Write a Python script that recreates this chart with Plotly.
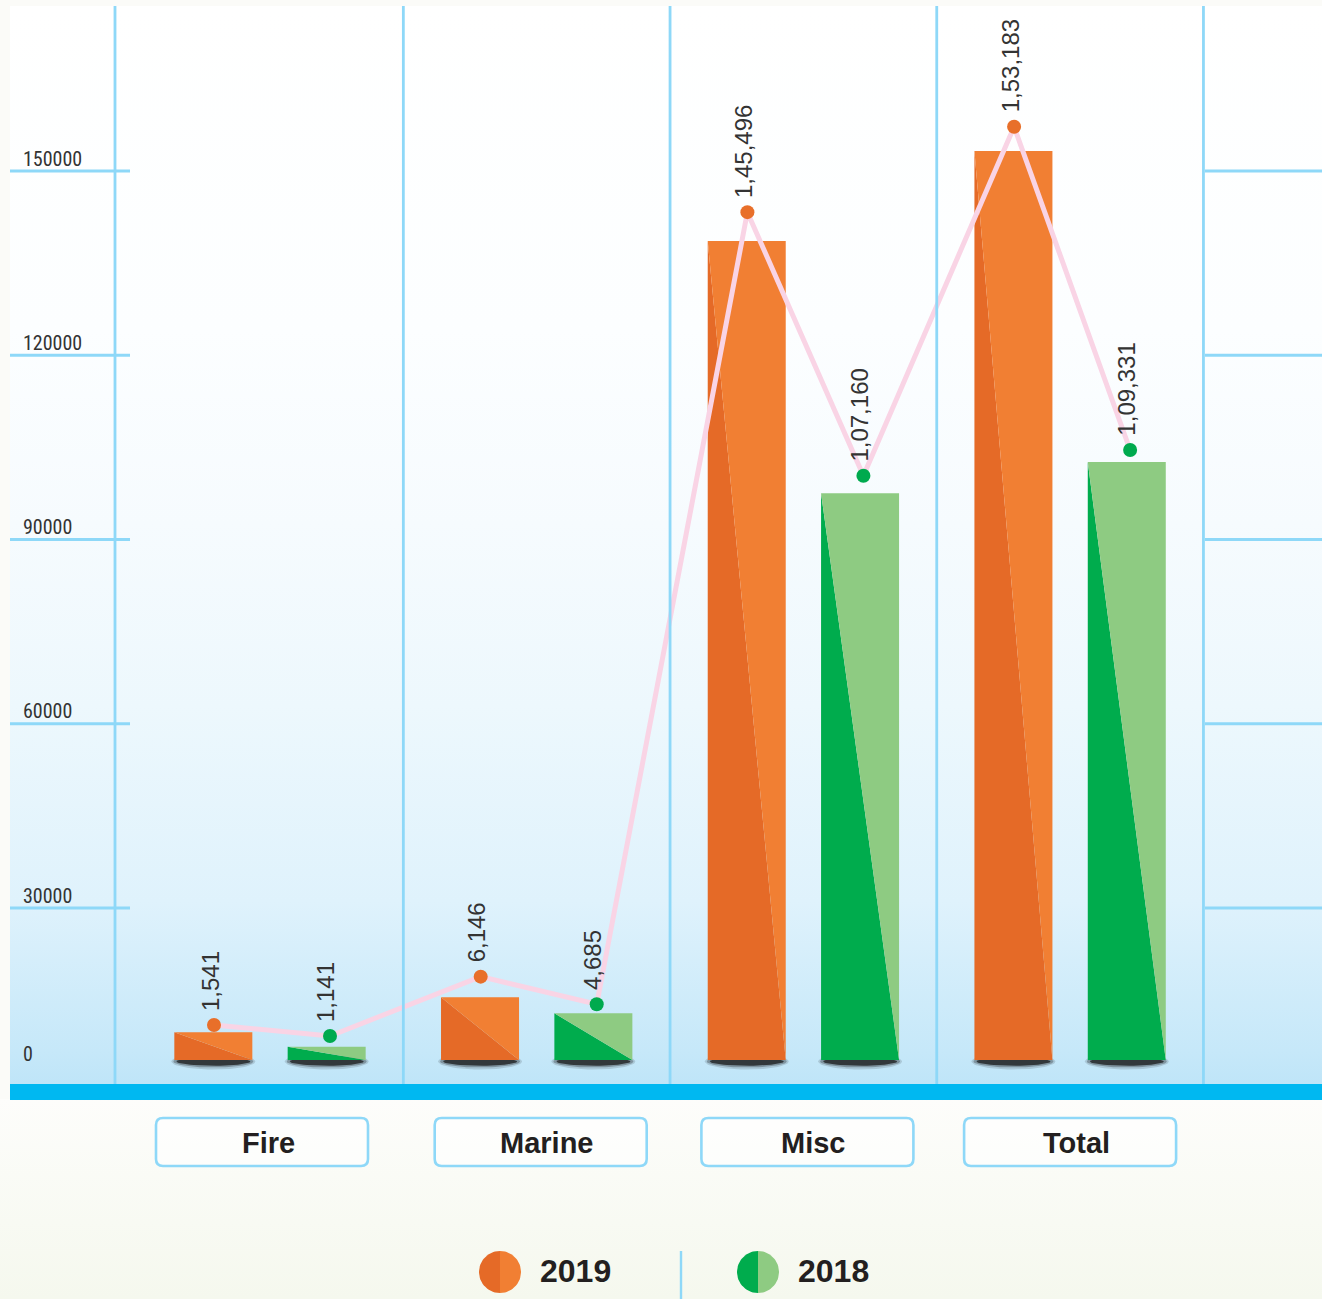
import numpy as np
import plotly.graph_objects as go

# ---------------- data ----------------
categories = ["Fire", "Marine", "Misc", "Total"]
series_names = ["2019", "2018"]
values_2019 = [1541, 6146, 145496, 153183]
values_2018 = [1141, 4685, 107160, 109331]
# bar tops and marker heights as drawn against the y axis
bar_top_2019 = [9760, 15460, 138600, 153260]
bar_top_2018 = [7420, 12860, 97520, 102620]
marker_2019 = [10950, 18820, 143300, 157210]
marker_2018 = [9160, 14320, 100390, 104570]
bar_base = 5250
y_ticks = [0, 30000, 60000, 90000, 120000, 150000]
y_tick_labels = ["0", "30000", "60000", "90000", "120000", "150000"]

# ---------------- colours ----------------
ORANGE_DARK, ORANGE_LIGHT, ORANGE_DOT = "#E56A27", "#F17F33", "#E86F2A"
GREEN_DARK, GREEN_LIGHT, GREEN_DOT = "#00AC4D", "#8ECB82", "#00AA4E"
GRID = "#8ED8F8"
PINK = "#F9D4E5"
TEXT = "#231F20"

# ---------------- canvas / scale helpers ----------------
W, H = 1322, 1299
X0_PX, X_STEP = 270.0, 266.7          # pixel of category 0, pixels per category
Y0_PX, Y_K = 1092.25, 184.25 / 30000  # pixel of value 0, pixels per unit


def px_x(p):
    return (p - X0_PX) / X_STEP


def px_y(q):
    return (Y0_PX - q) / Y_K


def len_x(p):
    return p / X_STEP


def to_px_y(v):
    return Y0_PX - v * Y_K


def indian(n):
    s = str(int(n))
    if len(s) <= 3:
        return s
    head, tail = s[:-3], s[-3:]
    parts = []
    while len(head) > 2:
        parts.insert(0, head[-2:])
        head = head[:-2]
    if head:
        parts.insert(0, head)
    return ",".join(parts) + "," + tail


x_range = [px_x(0), px_x(W)]
y_range = [px_y(H), px_y(0)]

fig = go.Figure()

# background gradient of the plot region
fig.add_trace(go.Scatter(
    x=[px_x(10), px_x(W), px_x(W), px_x(10), px_x(10)],
    y=[px_y(1084), px_y(1084), px_y(6), px_y(6), px_y(1084)],
    mode="lines", line=dict(width=0), fill="toself",
    fillgradient=dict(type="vertical", colorscale=[
        [0.0, "#BFE5F8"], [0.03, "#C6E8F9"], [0.17, "#DFF2FC"],
        [0.35, "#EDF8FD"], [0.52, "#F6FBFE"], [0.7, "#FCFEFF"], [1.0, "#FFFFFF"]]),
    hoverinfo="skip", showlegend=False))

# bottom band gradient
fig.add_trace(go.Scatter(
    x=[px_x(0), px_x(W), px_x(W), px_x(0), px_x(0)],
    y=[px_y(H), px_y(H), px_y(1099), px_y(1099), px_y(H)],
    mode="lines", line=dict(width=0), fill="toself",
    fillgradient=dict(type="vertical", colorscale=[
        [0.0, "#F5F8EE"], [1.0, "#FDFDFB"]]),
    hoverinfo="skip", showlegend=False))

bar_offsets = [-0.2125, 0.2125]
dot_offsets = [-0.21, 0.225]
half_w = len_x(39)

series = [
    (bar_top_2019, marker_2019, values_2019, ORANGE_DARK, ORANGE_LIGHT, ORANGE_DOT),
    (bar_top_2018, marker_2018, values_2018, GREEN_DARK, GREEN_LIGHT, GREEN_DOT),
]

# shadows under bars
t = np.linspace(0, 2 * np.pi, 60)
for k, (tops, _, _, _, _, _) in enumerate(series):
    for alpha, rx, ry in [(0.15, 42, 8), (0.3, 40, 6), (0.75, 37, 4.2)]:
        xs, ys = [], []
        for i in range(len(categories)):
            xc = i + bar_offsets[k]
            yc = to_px_y(bar_base) + 1.5
            xs += list(xc + len_x(rx) * np.cos(t)) + [None]
            ys += list(px_y(yc + ry * np.sin(t))) + [None]
        fig.add_trace(go.Scatter(x=xs, y=ys, mode="lines", line=dict(width=0),
                                 fill="toself", fillcolor=f"rgba(25,25,25,{alpha})",
                                 hoverinfo="skip", showlegend=False))

# two-tone bars
for k, (tops, _, _, dark, light, _) in enumerate(series):
    dx_, dy_, lx_, ly_ = [], [], [], []
    for i, top in enumerate(tops):
        x0 = i + bar_offsets[k] - half_w
        x1 = i + bar_offsets[k] + half_w
        dx_ += [x0, x0, x1, x0, None]
        dy_ += [top, bar_base, bar_base, top, None]
        lx_ += [x0, x1, x1, x0, None]
        ly_ += [top, top, bar_base, top, None]
    fig.add_trace(go.Scatter(x=dx_, y=dy_, mode="lines", line=dict(width=0),
                             fill="toself", fillcolor=dark,
                             hoverinfo="skip", showlegend=False))
    fig.add_trace(go.Scatter(x=lx_, y=ly_, mode="lines", line=dict(width=0),
                             fill="toself", fillcolor=light,
                             hoverinfo="skip", showlegend=False))

# connecting pink line
line_x, line_y = [], []
for i in range(len(categories)):
    for k in range(2):
        line_x.append(i + dot_offsets[k])
        line_y.append(series[k][1][i])
fig.add_trace(go.Scatter(x=line_x, y=line_y, mode="lines",
                         line=dict(color=PINK, width=5),
                         hoverinfo="skip", showlegend=False))

# dots
for k, (_, marks, _, _, _, dot) in enumerate(series):
    fig.add_trace(go.Scatter(
        x=[i + dot_offsets[k] for i in range(len(categories))], y=marks,
        mode="markers", marker=dict(color=dot, size=14, line=dict(width=0)),
        name=series_names[k], hoverinfo="skip", showlegend=False))

# legend circles (half dark / half light)
legend_px = [(500, 1272), (758, 1272)]
r = 21
for k, (cx, cy) in enumerate(legend_px):
    dark, light = series[k][3], series[k][4]
    for col, a0, a1 in [(dark, np.pi / 2, 3 * np.pi / 2), (light, -np.pi / 2, np.pi / 2)]:
        a = np.linspace(a0, a1, 40)
        xs = list(px_x(cx + r * np.cos(a)))
        ys = list(px_y(cy - r * np.sin(a)))
        fig.add_trace(go.Scatter(x=xs + [xs[0]], y=ys + [ys[0]], mode="lines",
                                 line=dict(width=0), fill="toself", fillcolor=col,
                                 hoverinfo="skip", showlegend=False))

# ---------------- shapes ----------------
shapes = []
# cyan base band
shapes.append(dict(type="rect", xref="x", yref="y", x0=px_x(10), x1=px_x(W),
                   y0=px_y(1100), y1=px_y(1084), line=dict(width=0),
                   fillcolor="#00B8F1", layer="above"))
# vertical dividers
for xv in [px_x(115)] + [i + 0.5 for i in range(len(categories))]:
    shapes.append(dict(type="line", xref="x", yref="y", x0=xv, x1=xv,
                       y0=px_y(1084), y1=px_y(6), line=dict(color=GRID, width=2.8)))
# horizontal tick segments (left and right)
for tv in y_ticks[1:]:
    for a, b in [(10, 130), (1205, W)]:
        shapes.append(dict(type="line", xref="x", yref="y", x0=px_x(a), x1=px_x(b),
                           y0=tv, y1=tv, line=dict(color=GRID, width=2.8)))


def rounded_box(L, T, R, B, rad):
    pts = [("M", [(L + rad, T)]), ("L", [(R - rad, T)]), ("Q", [(R, T), (R, T + rad)]),
           ("L", [(R, B - rad)]), ("Q", [(R, B), (R - rad, B)]), ("L", [(L + rad, B)]),
           ("Q", [(L, B), (L, B - rad)]), ("L", [(L, T + rad)]), ("Q", [(L, T), (L + rad, T)])]
    path = ""
    for cmd, ps in pts:
        path += cmd + " " + " ".join(f"{px_x(p):.6f},{px_y(q):.3f}" for p, q in ps) + " "
    return path + "Z"


box_shift = [-8, 4, 4, 0]
for i in range(len(categories)):
    cxp = X0_PX + X_STEP * i + box_shift[i]
    shapes.append(dict(type="path", xref="x", yref="y",
                       path=rounded_box(cxp - 106, 1118, cxp + 106, 1166, 7),
                       line=dict(color=GRID, width=2.6),
                       fillcolor="rgba(255,255,255,0.6)"))
# legend separator
shapes.append(dict(type="line", xref="x", yref="y", x0=px_x(681), x1=px_x(681),
                   y0=px_y(1299), y1=px_y(1251), line=dict(color=GRID, width=2.4)))

# ---------------- annotations ----------------
ann = []
NARROW = "Liberation Sans Narrow, Arial Narrow, Roboto Condensed, DejaVu Sans Condensed, sans-serif"
for tv, tl in zip(y_ticks, y_tick_labels):
    if tv == 0:
        yv, ys = bar_base, 6
    else:
        yv, ys = tv, 12.5
    ann.append(dict(x=px_x(21), y=yv, xref="x", yref="y", text=tl, showarrow=False,
                    xanchor="left", yanchor="middle", yshift=ys,
                    font=dict(family=NARROW, size=20, color="#333333")))

for k, (_, marks, vals, _, _, _) in enumerate(series):
    for i, (m, v) in enumerate(zip(marks, vals)):
        ann.append(dict(x=i + dot_offsets[k], y=m, xref="x", yref="y", text=indian(v),
                        showarrow=False, textangle=-90, xanchor="center", yanchor="bottom",
                        yshift=12, xshift=-4,
                        font=dict(family="Liberation Sans, Arial, sans-serif",
                                  size=24, color="#333333")))

for i, c in enumerate(categories):
    ann.append(dict(x=i, y=px_y(1143), xref="x", yref="y", text=f"<b>{c}</b>",
                    showarrow=False, xanchor="center", yanchor="middle",
                    xshift=box_shift[i] + 6,
                    font=dict(family="Liberation Sans, Arial, sans-serif", size=29, color=TEXT)))

for k, (cx, cy) in enumerate(legend_px):
    ann.append(dict(x=px_x(cx + 38), y=px_y(cy - 1), xref="x", yref="y",
                    text=f"<b>{series_names[k]}</b>", showarrow=False,
                    xanchor="left", yanchor="middle",
                    font=dict(family="Liberation Sans, Arial, sans-serif", size=32, color=TEXT)))

fig.update_layout(
    width=W, height=H, autosize=False,
    margin=dict(l=0, r=0, t=0, b=0, pad=0),
    paper_bgcolor="#FBFBF8", plot_bgcolor="rgba(0,0,0,0)",
    xaxis=dict(range=x_range, visible=False, fixedrange=True),
    yaxis=dict(range=y_range, visible=False, fixedrange=True),
    shapes=shapes, annotations=ann, showlegend=False,
)

fig.write_html("out.html", config={"displayModeBar": False},
               post_script="document.body.style.margin='0';")
